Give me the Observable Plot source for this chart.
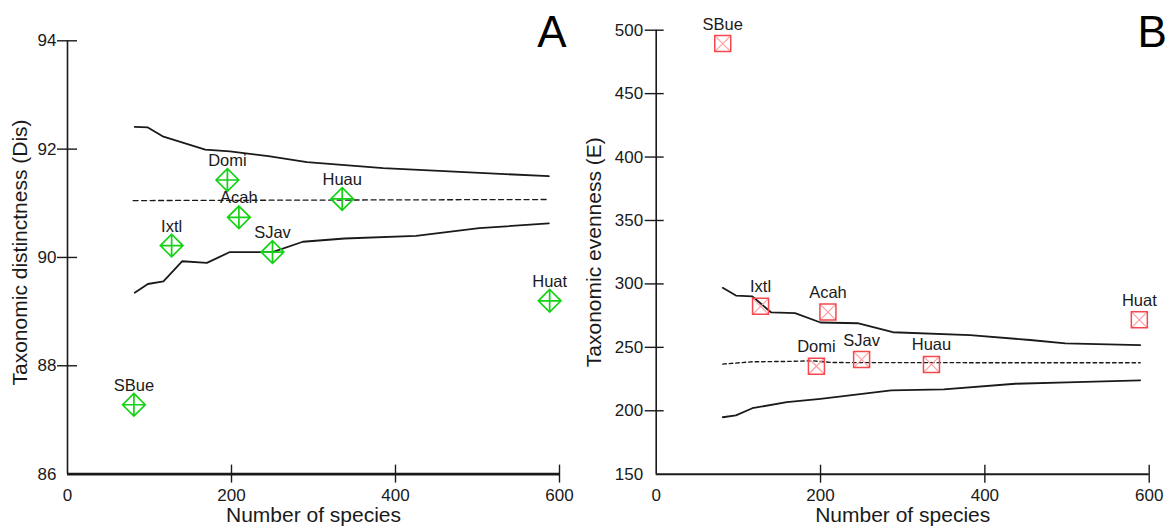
<!DOCTYPE html>
<html><head><meta charset="utf-8">
<script src="https://cdn.jsdelivr.net/npm/d3@7"></script>
<script src="https://cdn.jsdelivr.net/npm/@observablehq/plot@0.6"></script>
<style>
html,body{margin:0;padding:0;background:#fff;}
#chart{position:relative;width:1167px;height:527px;overflow:hidden;background:#fff;font-family:"Liberation Sans",Arial,sans-serif;}
#chart svg{position:absolute;top:0;}
</style></head><body><div id="chart"></div>
<script>
// ---- data ----
const sites = ["SBue", "Ixtl", "Domi", "Acah", "SJav", "Huau", "Huat"];
const species = [81, 127, 195, 209, 250, 335, 588];
const distinctness = [87.28, 90.22, 91.43, 90.74, 90.10, 91.08, 89.20];
const evenness = [489.5, 282.3, 235.1, 277.8, 240.4, 236.5, 271.7];

const upperA_x = [82, 98, 117, 168, 198, 245, 292, 385, 478, 587];
const upperA_y = [92.41, 92.40, 92.23, 91.99, 91.96, 91.87, 91.76, 91.65, 91.58, 91.50];
const lowerA_x = [82, 98, 117, 140, 170, 198, 250, 287, 338, 425, 502, 587];
const lowerA_y = [89.35, 89.51, 89.56, 89.93, 89.90, 90.10, 90.10, 90.29, 90.35, 90.40, 90.54, 90.63];
const meanA_x = [80, 587];
const meanA_y = [91.05, 91.07];

const upperB_x = [81, 97, 117, 140, 169, 200, 245, 288, 382, 455, 498, 589];
const upperB_y = [296.9, 290.8, 290.2, 277.5, 277.0, 269.6, 269.0, 261.9, 259.7, 255.8, 253.1, 251.8];
const lowerB_x = [81, 97, 117, 159, 200, 286, 350, 437, 500, 589];
const lowerB_y = [194.9, 196.4, 202.0, 206.8, 209.4, 216.0, 216.8, 221.3, 222.4, 224.0];
const meanB_x = [81, 117, 160, 190, 215, 589];
const meanB_y = [236.8, 238.6, 238.9, 239.4, 238.0, 237.8];

const xTicks = [0, 200, 400, 600];
const yTicksA = [86, 88, 90, 92, 94];
const yTicksB = [150, 200, 250, 300, 350, 400, 450, 500];

const xTitle = "Number of species";
const yTitleA = "Taxonomic distinctness (Dis)";
const yTitleB = "Taxonomic evenness (E)";

// ---- helpers ----
const pts = (xs, ys) => xs.map((x, i) => ({x, y: ys[i]}));
const rad = (size) => Math.sqrt(size / Math.PI);
const diamondPlus = {draw(c, size) { const r = rad(size);
  c.moveTo(0, -r); c.lineTo(r, 0); c.lineTo(0, r); c.lineTo(-r, 0); c.closePath();
  c.moveTo(0, -r); c.lineTo(0, r); c.moveTo(-r, 0); c.lineTo(r, 0); }};
const squareSym = {draw(c, size) { const r = rad(size);
  c.moveTo(-r, -r); c.lineTo(r, -r); c.lineTo(r, r); c.lineTo(-r, r); c.closePath(); }};
const timesSym = {draw(c, size) { const r = rad(size);
  c.moveTo(-r, -r); c.lineTo(r, r); c.moveTo(r, -r); c.lineTo(-r, r); }};

const font = "'Liberation Sans', Arial, Helvetica, sans-serif";
const ink = "#1a1a1a";
const green = "#14d214";
const red = "#f5474c";
const pink = "#ff9a9e";

const chart = document.getElementById("chart");

// ---- Panel A ----
const A = Plot.plot({
  width: 583, height: 527,
  marginLeft: 67, marginRight: 24, marginTop: 40.3, marginBottom: 53.4,
  style: {fontFamily: font, fontSize: "17px", color: ink, background: "transparent", overflow: "visible"},
  x: {domain: [0, 600]},
  y: {domain: [86, 94]},
  marks: [
    Plot.ruleX([0], {stroke: ink, strokeWidth: 1.6}),
    Plot.ruleY([86], {stroke: ink, strokeWidth: 2.6}),
    Plot.axisY({ticks: yTicksA.filter(d => d !== 86), tickSize: 20, dx: 10, tickPadding: 1, label: null, stroke: ink, strokeWidth: 1.4, fill: ink}),
    Plot.axisY({ticks: [86], tickSize: 0, tickPadding: 11, label: null, fill: ink}),
    Plot.axisX({ticks: xTicks.filter(d => d !== 0), tickSize: 18, dy: -9, text: null, label: null, stroke: ink, strokeWidth: 1.4}),
    Plot.axisX({ticks: xTicks, tickSize: 0, tickPadding: 15, label: null, fill: ink}),
    Plot.line(pts(upperA_x, upperA_y), {x: "x", y: "y", stroke: ink, strokeWidth: 1.8}),
    Plot.line(pts(lowerA_x, lowerA_y), {x: "x", y: "y", stroke: ink, strokeWidth: 1.8}),
    Plot.line(pts(meanA_x, meanA_y), {x: "x", y: "y", stroke: ink, strokeWidth: 1.3, strokeDasharray: "5,3.5"}),
    Plot.dot(sites, {x: species, y: distinctness, symbol: diamondPlus, r: 11.3, stroke: green, strokeWidth: 1.7, fill: "none"}),
    Plot.text(sites, {x: species, y: distinctness, text: sites, dy: -14, lineAnchor: "bottom", fontSize: 16.5, fill: ink}),
    Plot.text([yTitleA], {frameAnchor: "left", text: d => d, rotate: -90, textAnchor: "middle", lineAnchor: "middle", dx: -47.4, dy: -5, fontSize: 21, fill: ink}),
    Plot.text([xTitle], {frameAnchor: "bottom", text: d => d, textAnchor: "middle", lineAnchor: "bottom", dy: 48, fontSize: 21, fill: ink}),
    Plot.text(["A"], {frameAnchor: "top-right", text: d => d, textAnchor: "end", lineAnchor: "bottom", dx: 7, dy: 5.7, fontSize: 44, fill: "#000"})
  ]
});
A.style.left = "0px";
chart.appendChild(A);

// ---- Panel B ----
const B = Plot.plot({
  width: 584, height: 527,
  marginLeft: 72.7, marginRight: 18.3, marginTop: 29.7, marginBottom: 53.3,
  style: {fontFamily: font, fontSize: "17px", color: ink, background: "transparent", overflow: "visible"},
  x: {domain: [0, 600]},
  y: {domain: [150, 500]},
  marks: [
    Plot.ruleX([0], {stroke: ink, strokeWidth: 1.6}),
    Plot.ruleY([150], {stroke: ink, strokeWidth: 1.9}),
    Plot.axisY({ticks: yTicksB.filter(d => d !== 150), tickSize: 19, dx: 8, tickPadding: 2, label: null, stroke: ink, strokeWidth: 1.4, fill: ink}),
    Plot.axisY({ticks: [150], tickSize: 0, tickPadding: 13, label: null, fill: ink}),
    Plot.axisX({ticks: xTicks.filter(d => d !== 0), tickSize: 18, dy: -9, text: null, label: null, stroke: ink, strokeWidth: 1.4}),
    Plot.axisX({ticks: xTicks, tickSize: 0, tickPadding: 15, label: null, fill: ink}),
    Plot.line(pts(upperB_x, upperB_y), {x: "x", y: "y", stroke: ink, strokeWidth: 1.8}),
    Plot.line(pts(lowerB_x, lowerB_y), {x: "x", y: "y", stroke: ink, strokeWidth: 1.8}),
    Plot.line(pts(meanB_x, meanB_y), {x: "x", y: "y", stroke: ink, strokeWidth: 1.4, strokeDasharray: "3.5,3"}),
    Plot.dot(sites, {x: species, y: evenness, symbol: timesSym, r: 8, stroke: pink, strokeWidth: 1.1, fill: "none"}),
    Plot.dot(sites, {x: species, y: evenness, symbol: squareSym, r: 8, stroke: red, strokeWidth: 1.5, fill: "none"}),
    Plot.text(sites, {x: species, y: evenness, text: sites, dy: -14, lineAnchor: "bottom", fontSize: 16.5, fill: ink}),
    Plot.text([yTitleB], {frameAnchor: "left", text: d => d, rotate: -90, textAnchor: "middle", lineAnchor: "middle", dx: -62.1, dy: 0, fontSize: 21, fill: ink}),
    Plot.text([xTitle], {frameAnchor: "bottom", text: d => d, textAnchor: "middle", lineAnchor: "bottom", dy: 48, fontSize: 21, fill: ink}),
    Plot.text(["B"], {frameAnchor: "top-right", text: d => d, textAnchor: "start", lineAnchor: "bottom", dx: -11.7, dy: 16.3, fontSize: 44, fill: "#000"})
  ]
});
B.style.left = "583px";
chart.appendChild(B);
</script>
</body></html>
